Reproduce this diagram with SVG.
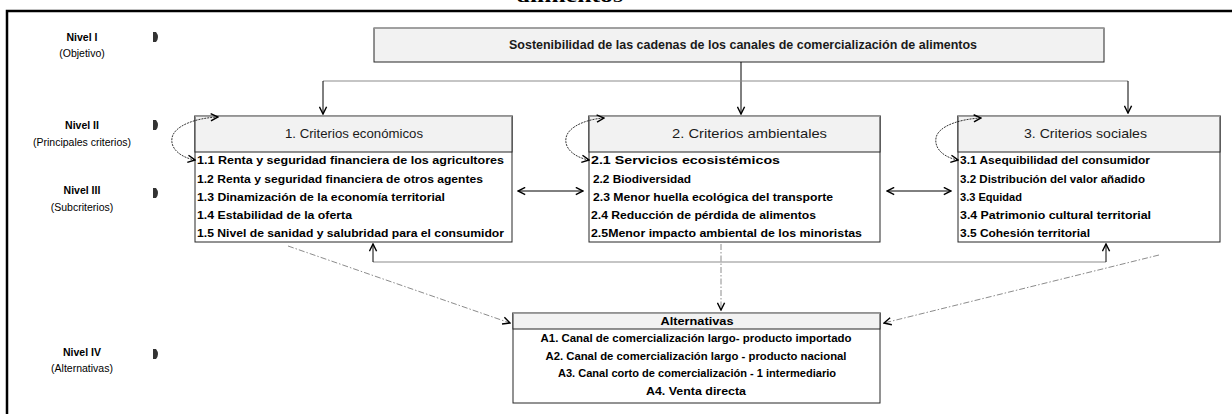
<svg xmlns="http://www.w3.org/2000/svg" width="1232" height="414" viewBox="0 0 1232 414">
<style>
.bg{fill:#fff}
.frame{stroke:#000;stroke-width:2.5;fill:none}
.box{fill:#fff;stroke:#262626;stroke-width:1}
.hbox{fill:#f2f2f2;stroke:#262626;stroke-width:1}
.topedge{stroke:#a6a6a6;stroke-width:1.5}
.title{font-family:"Liberation Sans",Arial,sans-serif;font-size:13px;font-weight:bold;fill:#1a1a1a}
.hdr{font-family:"Liberation Sans",Arial,sans-serif;font-size:13px;fill:#1a1a1a}
.item{font-family:"Liberation Sans",Arial,sans-serif;font-size:11.5px;font-weight:bold;fill:#000}
.lvlb{font-family:"Liberation Sans",Arial,sans-serif;font-size:10.5px;font-weight:bold;fill:#000;text-anchor:middle}
.lvl{font-family:"Liberation Sans",Arial,sans-serif;font-size:10.5px;fill:#000;text-anchor:middle}
.mid{text-anchor:middle}
.conn{fill:none;stroke:#000;stroke-width:1}
.gray{fill:none;stroke:#8c8c8c;stroke-width:1.2}
.dd{fill:none;stroke:#8c8c8c;stroke-width:1;stroke-dasharray:6,2,1.5,2}
.loop{fill:none;stroke:#000;stroke-width:0.8;stroke-dasharray:2,1}
.bullet{fill:#333}
</style>
<defs>
<marker id="ah" viewBox="0 0 10 10" refX="9" refY="5" markerWidth="9" markerHeight="9" markerUnits="userSpaceOnUse" orient="auto-start-reverse">
<path d="M1,1 L9,5 L1,9" fill="none" stroke="#000" stroke-width="1.6"/>
</marker>
</defs>
<rect class="bg" x="0" y="0" width="1232" height="414"/>
<text x="570" y="1.5" text-anchor="middle" font-family="Liberation Serif,serif" font-weight="bold" font-size="18" textLength="106" lengthAdjust="spacingAndGlyphs">alimentos</text>
<path class="frame" d="M7,414 V11 H1232"/>

<g id="levels">
<text class="lvlb" x="82" y="41">Nivel I</text>
<text class="lvl" x="82" y="57">(Objetivo)</text>
<path class="bullet" d="M153,32 L156,32 Q160,37 156,42 L153,42 Z"/>
<text class="lvlb" x="82" y="129">Nivel II</text>
<text class="lvl" x="82" y="146">(Principales criterios)</text>
<path class="bullet" d="M153,120 L156,120 Q160,125 156,130 L153,130 Z"/>
<text class="lvlb" x="82" y="194">Nivel III</text>
<text class="lvl" x="82" y="211">(Subcriterios)</text>
<path class="bullet" d="M153,188 L156,188 Q160,193 156,198 L153,198 Z"/>
<text class="lvlb" x="82" y="356">Nivel IV</text>
<text class="lvl" x="82" y="372">(Alternativas)</text>
<path class="bullet" d="M153,349 L156,349 Q160,354 156,359 L153,359 Z"/>
</g>

<g id="objetivo">
<rect class="hbox" x="374" y="28" width="730" height="34"/>
<line class="topedge" x1="374" y1="28" x2="1104" y2="28"/>
<text class="title" x="509" y="49" textLength="468" lengthAdjust="spacingAndGlyphs">Sostenibilidad de las cadenas de los canales de comercialización de alimentos</text>
</g>

<g id="economicos">
<rect class="box" x="195" y="116" width="317" height="126"/>
<rect class="hbox" x="195" y="116" width="317" height="36"/>
<line class="topedge" x1="195" y1="116" x2="512" y2="116"/>
<text class="hdr" x="285" y="138" textLength="138" lengthAdjust="spacingAndGlyphs">1. Criterios económicos</text>
<text class="item" x="197" y="164" textLength="307" lengthAdjust="spacingAndGlyphs">1.1 Renta y seguridad financiera de los agricultores</text>
<text class="item" x="197" y="183" textLength="286" lengthAdjust="spacingAndGlyphs">1.2 Renta y seguridad financiera de otros agentes</text>
<text class="item" x="197" y="201" textLength="248" lengthAdjust="spacingAndGlyphs">1.3 Dinamización de la economía territorial</text>
<text class="item" x="197" y="219" textLength="155" lengthAdjust="spacingAndGlyphs">1.4 Estabilidad de la oferta</text>
<text class="item" x="197" y="237" textLength="307" lengthAdjust="spacingAndGlyphs">1.5 Nivel de sanidad y salubridad para el consumidor</text>
</g>

<g id="ambientales">
<rect class="box" x="589" y="116" width="291" height="126"/>
<rect class="hbox" x="589" y="116" width="291" height="36"/>
<line class="topedge" x1="589" y1="116" x2="880" y2="116"/>
<text class="hdr" x="672" y="138" textLength="155" lengthAdjust="spacingAndGlyphs">2. Criterios ambientales</text>
<text class="item" x="591" y="164" textLength="189" lengthAdjust="spacingAndGlyphs">2.1 Servicios ecosistémicos</text>
<text class="item" x="593" y="183" textLength="98" lengthAdjust="spacingAndGlyphs">2.2 Biodiversidad</text>
<text class="item" x="593" y="201" textLength="240" lengthAdjust="spacingAndGlyphs">2.3 Menor huella ecológica del transporte</text>
<text class="item" x="591" y="219" textLength="225" lengthAdjust="spacingAndGlyphs">2.4 Reducción de pérdida de alimentos</text>
<text class="item" x="591" y="237" textLength="271" lengthAdjust="spacingAndGlyphs">2.5Menor impacto ambiental de los minoristas</text>
</g>

<g id="sociales">
<rect class="box" x="958" y="116" width="262" height="126"/>
<rect class="hbox" x="958" y="116" width="262" height="36"/>
<line class="topedge" x1="958" y1="116" x2="1220" y2="116"/>
<text class="hdr" x="1024" y="138" textLength="123" lengthAdjust="spacingAndGlyphs">3. Criterios sociales</text>
<text class="item" x="960" y="164" textLength="190" lengthAdjust="spacingAndGlyphs">3.1 Asequibilidad del consumidor</text>
<text class="item" x="960" y="183" textLength="185" lengthAdjust="spacingAndGlyphs">3.2 Distribución del valor añadido</text>
<text class="item" x="960" y="201" textLength="62" lengthAdjust="spacingAndGlyphs">3.3 Equidad</text>
<text class="item" x="960" y="219" textLength="191" lengthAdjust="spacingAndGlyphs">3.4 Patrimonio cultural territorial</text>
<text class="item" x="960" y="237" textLength="130" lengthAdjust="spacingAndGlyphs">3.5 Cohesión territorial</text>
</g>

<g id="alternativas">
<rect class="box" x="513" y="313" width="367" height="90"/>
<rect class="hbox" x="513" y="313" width="367" height="16"/>
<line class="topedge" x1="513" y1="313" x2="880" y2="313"/>
<text class="item mid" x="697" y="325" textLength="73" lengthAdjust="spacingAndGlyphs">Alternativas</text>
<text class="item mid" x="696" y="342" textLength="311" lengthAdjust="spacingAndGlyphs">A1. Canal de comercialización largo-  producto importado</text>
<text class="item mid" x="696" y="360" textLength="301" lengthAdjust="spacingAndGlyphs">A2. Canal de comercialización largo - producto nacional</text>
<text class="item mid" x="697" y="377" textLength="278" lengthAdjust="spacingAndGlyphs">A3. Canal corto de comercialización - 1 intermediario</text>
<text class="item mid" x="696" y="395" textLength="100" lengthAdjust="spacingAndGlyphs">A4. Venta directa</text>
</g>

<g id="connectors">
<line class="conn" x1="741" y1="62" x2="741" y2="114" marker-end="url(#ah)"/>
<line class="gray" x1="323" y1="81" x2="1128" y2="81"/>
<line class="conn" x1="323" y1="81" x2="323" y2="114" marker-end="url(#ah)"/>
<line class="conn" x1="1128" y1="81" x2="1128" y2="113" marker-end="url(#ah)"/>
<line class="conn" x1="518" y1="191" x2="583" y2="191" marker-start="url(#ah)" marker-end="url(#ah)"/>
<line class="conn" x1="887" y1="191" x2="951" y2="191" marker-start="url(#ah)" marker-end="url(#ah)"/>
<path class="loop" d="M195,160 C183,158 170,150 172,138 C174,126 195,118 218,117" marker-start="url(#ah)" marker-end="url(#ah)"/>
<path class="loop" d="M589,160 C577,158 564,150 566,138 C568,126 588,119 604,118" marker-start="url(#ah)" marker-end="url(#ah)"/>
<path class="loop" d="M958,160 C946,158 934,150 936,138 C938,126 960,119 981,118" marker-start="url(#ah)" marker-end="url(#ah)"/>
<path class="gray" d="M373,262 H1106"/>
<line class="conn" x1="373" y1="262" x2="373" y2="244" marker-end="url(#ah)"/>
<line class="conn" x1="1106" y1="262" x2="1106" y2="244" marker-end="url(#ah)"/>
<line class="dd" x1="288" y1="246" x2="510" y2="323" marker-end="url(#ah)"/>
<line class="dd" x1="721" y1="244" x2="721" y2="310" marker-end="url(#ah)"/>
<line class="dd" x1="1159" y1="255" x2="884" y2="323" marker-end="url(#ah)"/>
</g>
</svg>
